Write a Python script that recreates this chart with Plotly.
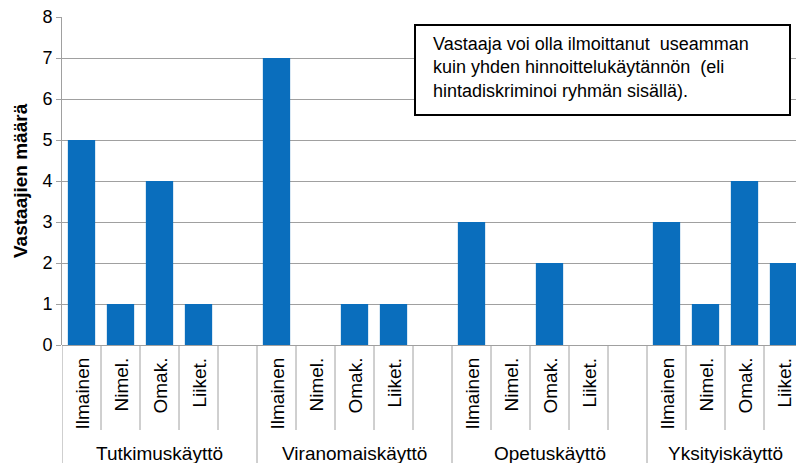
import plotly.graph_objects as go

# data
groups = ["Tutkimuskäyttö", "Viranomaiskäyttö", "Opetuskäyttö", "Yksityiskäyttö"]
subcats = ["Ilmainen", "Nimel.", "Omak.", "Liiket."]
tutkimus = [5, 1, 4, 1]
viranomais = [7, 0, 1, 1]
opetus = [3, 0, 2, 0]
yksityis = [3, 1, 4, 2]
y_title = "Vastaajien määrä"
note_lines = [
    "Vastaaja voi olla ilmoittanut\u00a0 useamman",
    "kuin yhden hinnoittelukäytännön\u00a0 (eli",
    "hintadiskriminoi ryhmän sisällä).",
]

FONT = "Arial, 'Liberation Sans', sans-serif"
BAR = "#0A6EBD"
GRID = "#A0A0A0"
SLOTS = 5  # 4 categories + one empty gap per group

values = [tutkimus, viranomais, opetus, yksityis]
xs, ys = [], []
for g, vals in enumerate(values):
    for k, v in enumerate(vals):
        xs.append(g * SLOTS + k)
        ys.append(v)

fig = go.Figure()
fig.add_trace(go.Bar(x=xs, y=ys, width=0.7, marker=dict(color=BAR, line=dict(width=0)),
                     showlegend=False, hoverinfo="y"))

# plot area in pixels: x 62..796, y 17..345
W, H = 796, 463
L, T, B = 62, 17, 118
ph = H - T - B


def py(pix):
    # pixel row below top of figure -> paper y
    return (H - B - pix) / ph


shapes, ann = [], []
for g in range(len(groups)):
    # group divider, runs to the bottom of the picture
    shapes.append(dict(type="line", xref="x", yref="paper", x0=g * SLOTS - 0.5, x1=g * SLOTS - 0.5,
                       y0=0, y1=py(470), line=dict(color=GRID, width=1)))
    for k in range(len(subcats)):
        shapes.append(dict(type="line", xref="x", yref="paper", x0=g * SLOTS + k + 0.5,
                           x1=g * SLOTS + k + 0.5, y0=0, y1=py(430),
                           line=dict(color=GRID, width=1)))
        ann.append(dict(x=g * SLOTS + k, y=py(356), xref="x", yref="paper", text=subcats[k],
                        textangle=-90, showarrow=False, xanchor="center", yanchor="top",
                        font=dict(family=FONT, size=19, color="#000000")))
    ncat = len(subcats)
    ann.append(dict(x=g * SLOTS + (ncat - 1) / 2 + (0.5 if g < len(groups) - 1 else 0),
                    y=py(453), xref="x", yref="paper", text=groups[g], showarrow=False,
                    xanchor="center", yanchor="middle",
                    font=dict(family=FONT, size=19, color="#000000")))

# note box
shapes.append(dict(type="rect", xref="paper", yref="paper",
                   x0=(415 - L) / (W - L), x1=(790 - L) / (W - L), y0=py(115), y1=py(25),
                   line=dict(color="#000000", width=2), fillcolor="white", layer="above"))
ann.append(dict(x=(431 - L) / (W - L), y=py(67), xref="paper", yref="paper",
                text="<br>".join(note_lines), align="left", showarrow=False,
                xanchor="left", yanchor="middle",
                font=dict(family=FONT, size=18, color="#000000")))

# y title
ann.append(dict(x=(20 - L) / (W - L), y=0.5, xref="paper", yref="paper", text=f"<b>{y_title}</b>",
                textangle=-90, showarrow=False, xanchor="center", yanchor="middle",
                font=dict(family=FONT, size=19, color="#000000")))

fig.update_layout(
    width=W, height=H,
    margin=dict(l=L, r=0, t=T, b=B),
    paper_bgcolor="white", plot_bgcolor="white",
    bargap=0.3,
    shapes=shapes, annotations=ann,
    font=dict(family=FONT, size=18, color="#000000"),
)
fig.update_xaxes(range=[-0.5, -0.5 + (W - L) / 39], showticklabels=False, showgrid=False,
                 zeroline=False, showline=False, ticks="")
fig.update_yaxes(range=[0, 8], dtick=1, showgrid=True, gridcolor=GRID, gridwidth=1,
                 zeroline=True, zerolinecolor=GRID, zerolinewidth=1,
                 showline=True, linecolor=GRID, linewidth=1,
                 ticks="outside", ticklen=5, tickcolor=GRID,
                 tickfont=dict(family=FONT, size=18, color="#000000"))

# drop the default page margin so the figure sits at the window's corner
fig.write_html("out.html", config={"displayModeBar": False},
               post_script="document.body.style.margin='0';")
